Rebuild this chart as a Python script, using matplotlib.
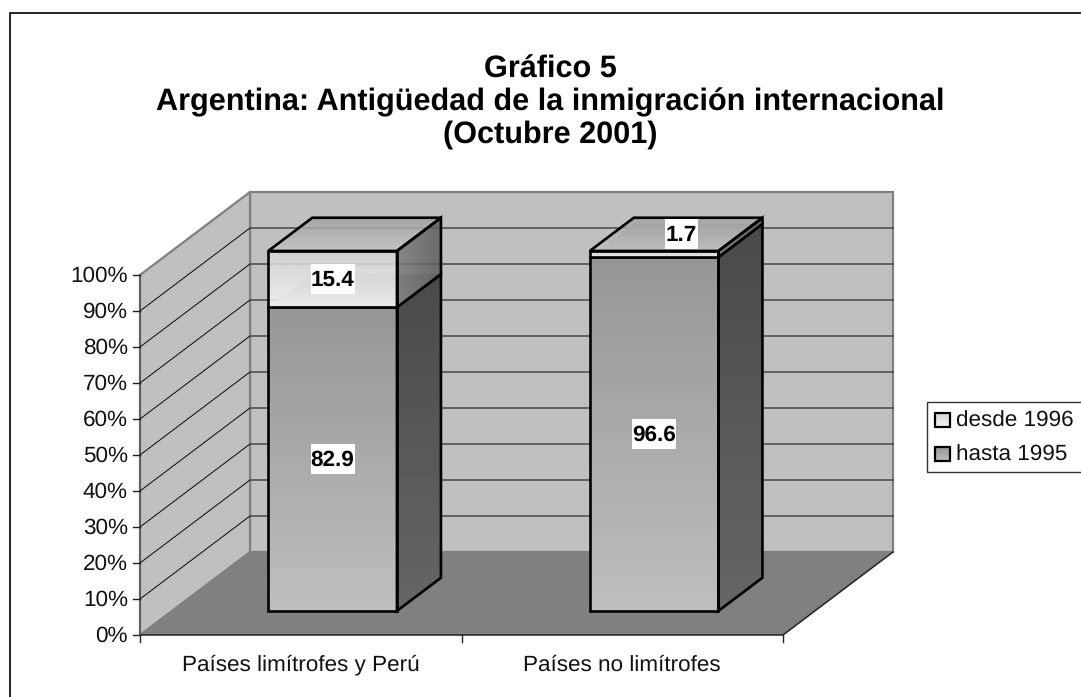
"""Grafico 5: barras apiladas 100% con aspecto 3D, dibujadas a mano sobre un solo eje."""
import numpy as np
import matplotlib
matplotlib.use("Agg")
import matplotlib.pyplot as plt
from matplotlib.patches import Polygon, Rectangle

plt.rcParams["font.family"] = ["Liberation Sans", "DejaVu Sans"]
plt.rcParams["text.hinting"] = "no_hinting"

categorias = ["Países limítrofes y Perú", "Países no limítrofes"]
hasta_1995 = [82.9, 96.6]
desde_1996 = [15.4, 1.7]
series = ["desde 1996", "hasta 1995"]
ticks_pct = list(range(0, 101, 10))
titulo = "Gráfico 5\nArgentina: Antigüedad de la inmigración internacional\n(Octubre 2001)"

# proyeccion: c = categoria (0-2), v = porcentaje, d = profundidad (0-1)
X0, Y0 = 140, 635
ANCHO_CAT = 321.5
ALTO_PCT = 3.6
DX, DY = 110, 83
GAP = 0.3      # hueco a cada lado de la barra, en fraccion de categoria
D1, D2 = 0.29, 0.69
FS = 16.2


def p(c, v, d):
    return (X0 + c * ANCHO_CAT + d * DX, Y0 - v * ALTO_PCT - d * DY)


fig = plt.figure(figsize=(10.81, 6.97), dpi=100)
ax = fig.add_axes([0, 0, 1, 1])
ax.set_xlim(0, 1081)
ax.set_ylim(697, 0)
ax.axis("off")

# marco: en el original solo se ven el lado superior y el izquierdo
ax.plot([1081, 9.5, 9.5], [12.5, 12.5, 697], color="black", lw=1.2, zorder=0,
        solid_joinstyle="miter")


def cara(pts, c1, c2, horizontal=False, alpha=1.0, zorder=3):
    """Cara con degradado de gris c1 a c2, recortada al poligono."""
    pts = np.array(pts)
    grad = np.linspace(c1, c2, 64) / 255
    grad = grad.reshape(1, -1) if horizontal else grad.reshape(-1, 1)
    ext = (pts[:, 0].min(), pts[:, 0].max(), pts[:, 1].max(), pts[:, 1].min())
    im = ax.imshow(grad, cmap="gray", vmin=0, vmax=1, extent=ext, aspect="auto",
                   alpha=alpha, zorder=zorder, interpolation="bilinear")
    poly = Polygon(pts, closed=True, transform=ax.transData, fc="none", ec="none")
    ax.add_patch(poly)
    im.set_clip_path(poly)
    return im


def borde(pts, zorder=4, lw=1.9):
    ax.add_patch(Polygon(pts, closed=True, fc="none", ec="black", lw=lw,
                         joinstyle="miter", zorder=zorder))


# paredes y piso
pared_c = "#c0c0c0"
ax.add_patch(Polygon([p(0, 0, 1), p(2, 0, 1), p(2, 100, 1), p(0, 100, 1)], closed=True,
                     fc=pared_c, ec="#808080", lw=1.6, zorder=1))
ax.add_patch(Polygon([p(0, 0, 0), p(0, 0, 1), p(0, 100, 1), p(0, 100, 0)], closed=True,
                     fc=pared_c, ec="#808080", lw=1.6, zorder=1))
ax.add_patch(Polygon([p(0, 0, 0), p(2, 0, 0), p(2, 0, 1), p(0, 0, 1)], closed=True,
                     fc="#808080", ec="none", zorder=1.5))
ax.plot(*zip(p(0, 0, 0), p(2, 0, 0), p(2, 0, 1)), color="#222222", lw=1.1, zorder=2)
ax.plot(*zip(p(0, 0, 0), p(0, 100, 0)), color="#555555", lw=1.1, zorder=2)

# rejilla
for t in ticks_pct[1:-1]:
    ax.plot(*zip(p(0, t, 0), p(0, t, 1), p(2, t, 1)), color="#1c1c1c", lw=0.8, zorder=2)

for t in ticks_pct:
    x, y = p(0, t, 0)
    ax.plot([x - 7, x], [y, y], color="#222222", lw=1, zorder=2)
    ax.text(x - 12, y + 1, f"{t}%", ha="right", va="center", fontsize=FS, color="#111111")

for i in range(3):
    x, y = p(i, 0, 0)
    ax.plot([x, x], [y, y + 7], color="#222222", lw=1, zorder=2)
for i, cat in enumerate(categorias):
    x, y = p(i + 0.5, 0, 0)
    ax.text(x, 665, cat, ha="center", va="center", fontsize=FS, color="#111111")


def etiqueta(x, y, s):
    w = 11 * len(s)
    ax.add_patch(Rectangle((x - w / 2, y - 15), w, 30, fc="white", ec="none", zorder=7))
    ax.text(x, y + 1, s, ha="center", va="center", fontsize=FS, fontweight="bold",
            color="black", zorder=8)


# barras
for i in range(len(categorias)):
    total = hasta_1995[i] + desde_1996[i]
    v_h = hasta_1995[i] / total * 100
    c1, c2 = i + GAP, i + 1 - GAP

    cara([p(c1, 0, D1), p(c2, 0, D1), p(c2, v_h, D1), p(c1, v_h, D1)], 0x96, 0xbe)
    cara([p(c2, 0, D1), p(c2, 0, D2), p(c2, v_h, D2), p(c2, v_h, D1)], 0x4a, 0x66)
    cara([p(c1, v_h, D1), p(c2, v_h, D1), p(c2, v_h, D2), p(c1, v_h, D2)], 0x90, 0xa8)
    borde([p(c1, 0, D1), p(c2, 0, D1), p(c2, v_h, D1), p(c1, v_h, D1)])
    borde([p(c2, 0, D1), p(c2, 0, D2), p(c2, v_h, D2), p(c2, v_h, D1)])

    # tramo superior translucido: deja ver la rejilla y la tapa del tramo de abajo
    cara([p(c1, v_h, D1), p(c2, v_h, D1), p(c2, 100, D1), p(c1, 100, D1)], 0xd4, 0xf6,
         alpha=0.85, zorder=5)
    cara([p(c2, v_h, D1), p(c2, v_h, D2), p(c2, 100, D2), p(c2, 100, D1)], 0x7c, 0x5c,
         horizontal=True, alpha=0.85, zorder=5)
    cara([p(c1, 100, D1), p(c2, 100, D1), p(c2, 100, D2), p(c1, 100, D2)], 0xa0, 0xc4,
         alpha=0.85, zorder=5)
    borde([p(c1, v_h, D1), p(c2, v_h, D1), p(c2, 100, D1), p(c1, 100, D1)], zorder=6)
    borde([p(c2, v_h, D1), p(c2, v_h, D2), p(c2, 100, D2), p(c2, 100, D1)], zorder=6)
    borde([p(c1, 100, D1), p(c2, 100, D1), p(c2, 100, D2), p(c1, 100, D2)], zorder=6)

    # etiquetas de valor
    cx = (c1 + c2) / 2
    x, y = p(cx, v_h / 2, D1)
    etiqueta(x, y, f"{hasta_1995[i]:.1f}")
    if desde_1996[i] < 5:
        x, y = p(cx, 100, (D1 + D2) / 2)
        etiqueta(x + 5, y, f"{desde_1996[i]:.1f}")
    else:
        x, y = p(cx, (v_h + 100) / 2, D1)
        etiqueta(x, y, f"{desde_1996[i]:.1f}")

# leyenda
ax.add_patch(Rectangle((927, 402), 160, 70, fc="white", ec="#333333", lw=1, zorder=2))
for nombre, ymin, g1, g2 in zip(series, [413, 447], [0xd8, 0x96], [0xf2, 0xbe]):
    pts = [(935, ymin), (950, ymin), (950, ymin + 14), (935, ymin + 14)]
    cara(pts, g1, g2)
    borde(pts, lw=1.6)
    ax.text(956, ymin + 8, nombre, ha="left", va="center", fontsize=FS, color="#111111")

ax.text(550, 102, titulo, ha="center", va="center", fontsize=22.1, fontweight="bold",
        color="black", linespacing=1.15)

# imshow cambia los limites
ax.set_xlim(0, 1081)
ax.set_ylim(697, 0)
fig.savefig("out.png", dpi=100)
